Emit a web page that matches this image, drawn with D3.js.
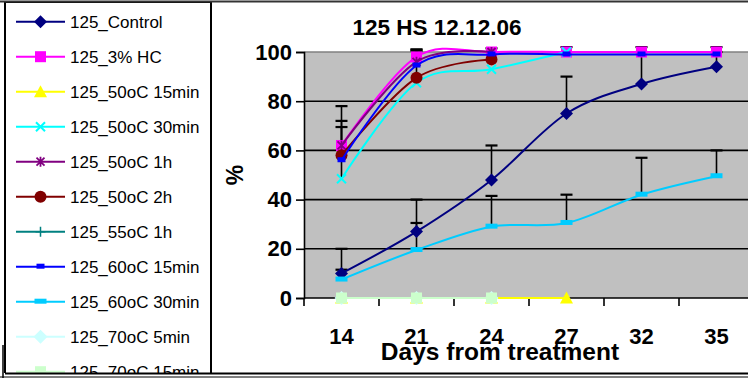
<!DOCTYPE html>
<html><head><meta charset="utf-8">
<script src="https://cdn.jsdelivr.net/npm/d3@7"></script>
<style>
body{margin:0;background:#fff}
svg{display:block}
text{font-family:"Liberation Sans",Arial,Helvetica,sans-serif}
</style>
</head><body>
<svg id="chart" width="748" height="378"></svg>
<script>
// Categories (days after treatment)
const days = ["14", "21", "24", "27", "32", "35"];
const yTicks = [0, 20, 40, 60, 80, 100];

const seriesNames = ["125_Control", "125_3% HC", "125_50oC 15min", "125_50oC 30min", "125_50oC 1h",
  "125_50oC 2h", "125_55oC 1h", "125_60oC 15min", "125_60oC 30min", "125_70oC 5min", "125_70oC 15min"];
const seriesColors = ["#000080", "#FF00FF", "#FFFF00", "#00FFFF", "#800080",
  "#800000", "#008080", "#0000FF", "#00CCFF", "#CCFFFF", "#CCFFCC"];
const seriesMarkers = ["diamond", "square", "triangle", "x", "star",
  "circle", "plus", "dash", "longdash", "diamond", "square"];

// Percent values per series (null = no measurement)
const control  = [10, 27, 48, 75, 87, 94];
const hc3      = [62, 98, 100, 100, 100, 100];
const c50_15m  = [0, 0, 0, 0, null, null];
const c50_30m  = [48.5, 87.5, 93, 100, null, null];
const c50_1h   = [62, 96, 100, null, null, null];
const c50_2h   = [58, 89.5, 97, null, null, null];
const c55_1h   = [null, null, null, null, null, null];
const c60_15m  = [56, 94.5, 99, 99, 99, 99];
const c60_30m  = [7.5, 19.5, 29, 30.5, 42, 49.5];
const c70_5m   = [0, 0, 0, null, null, null];
const c70_15m  = [0, 0, 0, null, null, null];

// Positive error amounts (null = none)
const controlErr = [10, 13, 14, 15, 13, 6];
const hc3Err     = [16, 3, 1.5, 2, 2, 2];
const c50_30mErr = [21, null, null, null, null, null];
const c50_2hErr  = [14, 11.5, null, null, null, null];
const c60_15mErr = [null, 6, null, null, null, null];
const c60_30mErr = [4, 11, 12.5, 11.5, 15, 10.5];

const seriesValues = [control, hc3, c50_15m, c50_30m, c50_1h, c50_2h, c55_1h, c60_15m, c60_30m, c70_5m, c70_15m];
const seriesErrors = [controlErr, hc3Err, null, c50_30mErr, null, c50_2hErr, null, c60_15mErr, c60_30mErr, null, null];

const svg = d3.select("#chart");
svg.append("rect").attr("width", 748).attr("height", 378).attr("fill", "#fff");

const plotLeft = 304, plotTop = 52, plotBottom = 298, band = 75;
const x = d3.scaleBand().domain(days).range([plotLeft, plotLeft + band * days.length]).padding(0);
const cx = d => x(d) + x.bandwidth() / 2;
const y = d3.scaleLinear().domain([0, 100]).range([plotBottom, plotTop]);

// Plot area
svg.append("rect").attr("x", plotLeft).attr("y", plotTop)
  .attr("width", 748 - plotLeft).attr("height", plotBottom - plotTop).attr("fill", "#C0C0C0");

// Gridlines
svg.append("g").selectAll("line").data(yTicks.filter(t => t > 0)).join("line")
  .attr("x1", plotLeft).attr("x2", 748)
  .attr("y1", d => y(d)).attr("y2", d => y(d))
  .attr("stroke", d => d === 100 ? "#808080" : "#000").attr("stroke-width", 1.6);

// Y axis
const yAxis = svg.append("g").attr("transform", `translate(${plotLeft},0)`)
  .call(d3.axisLeft(y).tickValues(yTicks).tickSize(8).tickPadding(4));
yAxis.select(".domain").attr("stroke", "#000").attr("stroke-width", 1.6);
yAxis.selectAll(".tick line").attr("stroke", "#000").attr("stroke-width", 1.6);
yAxis.selectAll(".tick text").attr("font-size", 22).attr("font-weight", "bold")
  .attr("font-family", "'Liberation Sans', Arial, sans-serif").attr("fill", "#000");

// X axis: labels centered in categories, ticks at category edges
const xAxis = svg.append("g").attr("transform", `translate(0,${plotBottom})`)
  .call(d3.axisBottom(x).tickSize(0).tickPadding(30));
xAxis.select(".domain").remove();
xAxis.selectAll(".tick text").attr("font-size", 22).attr("font-weight", "bold")
  .attr("font-family", "'Liberation Sans', Arial, sans-serif").attr("fill", "#000");
svg.append("line").attr("x1", plotLeft).attr("x2", 748).attr("y1", plotBottom).attr("y2", plotBottom)
  .attr("stroke", "#000").attr("stroke-width", 1.6);
svg.append("g").selectAll("line").data(days).join("line")
  .attr("x1", d => x(d)).attr("x2", d => x(d))
  .attr("y1", plotBottom).attr("y2", plotBottom + 8)
  .attr("stroke", "#000").attr("stroke-width", 1.6);

// Titles
svg.append("text").attr("x", 437).attr("y", 35).attr("text-anchor", "middle")
  .attr("font-size", 22.5).attr("font-weight", "bold").text("125 HS 12.12.06");
svg.append("text").attr("x", 500).attr("y", 360).attr("text-anchor", "middle")
  .attr("font-size", 24.5).attr("font-weight", "bold").text("Days from treatment");
svg.append("text").attr("transform", "translate(243,175) rotate(-90)").attr("text-anchor", "middle")
  .attr("font-size", 23).attr("font-weight", "bold").text("%");

function marker(g, type, color, px, py, big) {
  const s = big ? 7 : 6.5;
  switch (type) {
    case "diamond":
      g.append("path").attr("d", `M${px},${py - s}L${px + s},${py}L${px},${py + s}L${px - s},${py}Z`)
        .attr("fill", color); break;
    case "square":
      g.append("rect").attr("x", px - 5.5).attr("y", py - 5.5).attr("width", 11).attr("height", 11).attr("fill", color); break;
    case "triangle":
      g.append("path").attr("d", `M${px},${py - 6.5}L${px + 6.5},${py + 5.5}L${px - 6.5},${py + 5.5}Z`).attr("fill", color); break;
    case "x":
      g.append("path").attr("d", `M${px - 4.5},${py - 4.5}L${px + 4.5},${py + 4.5}M${px - 4.5},${py + 4.5}L${px + 4.5},${py - 4.5}`)
        .attr("stroke", color).attr("stroke-width", 2).attr("fill", "none"); break;
    case "star":
      g.append("path").attr("d", `M${px - 4},${py - 4}L${px + 4},${py + 4}M${px - 4},${py + 4}L${px + 4},${py - 4}M${px},${py - 5}L${px},${py + 5}`)
        .attr("stroke", color).attr("stroke-width", 1.8).attr("fill", "none"); break;
    case "circle":
      g.append("circle").attr("cx", px).attr("cy", py).attr("r", 6).attr("fill", color); break;
    case "plus":
      g.append("path").attr("d", `M${px - 5},${py}L${px + 5},${py}M${px},${py - 5}L${px},${py + 5}`)
        .attr("stroke", color).attr("stroke-width", 1.5).attr("fill", "none"); break;
    case "dash":
      g.append("rect").attr("x", px - 4).attr("y", py - 3).attr("width", 8).attr("height", 5).attr("fill", color); break;
    case "longdash":
      g.append("rect").attr("x", px - 6).attr("y", py - 3).attr("width", 12).attr("height", 5).attr("fill", color); break;
  }
}

// Error bars (plus direction only), under the series
const errG = svg.append("g");
seriesErrors.forEach((errs, si) => {
  if (!errs) return;
  errs.forEach((e, i) => {
    const v = seriesValues[si][i];
    if (e == null || v == null) return;
    const px = cx(days[i]);
    errG.append("line").attr("x1", px).attr("x2", px).attr("y1", y(v)).attr("y2", y(v + e))
      .attr("stroke", "#000").attr("stroke-width", 1.6);
    errG.append("line").attr("x1", px - 6).attr("x2", px + 6).attr("y1", y(v + e)).attr("y2", y(v + e))
      .attr("stroke", "#000").attr("stroke-width", 2.2);
  });
});

// Series lines and markers
const line = d3.line()
  .defined(d => d.v != null)
  .x(d => cx(d.day)).y(d => y(d.v))
  .curve(d3.curveCardinal.tension(0));

seriesValues.forEach((vals, si) => {
  const pts = vals.map((v, i) => ({ day: days[i], v }));
  const g = svg.append("g");
  g.append("path").datum(pts).attr("d", line).attr("fill", "none")
    .attr("stroke", seriesColors[si]).attr("stroke-width", 2);
  pts.filter(p => p.v != null).forEach(p => marker(g, seriesMarkers[si], seriesColors[si], cx(p.day), y(p.v), si >= 9));
});

// Legend
svg.append("defs").append("clipPath").attr("id", "legClip")
  .append("rect").attr("x", 0).attr("y", 0).attr("width", 220).attr("height", 373);
const leg = svg.append("g").attr("clip-path", "url(#legClip)");
leg.append("rect").attr("x", 5).attr("y", 2).attr("width", 206).attr("height", 380)
  .attr("fill", "#fff").attr("stroke", "#000").attr("stroke-width", 2);
seriesNames.forEach((name, i) => {
  const ly = 21.7 + 35 * i;
  leg.append("line").attr("x1", 16).attr("x2", 65).attr("y1", ly).attr("y2", ly)
    .attr("stroke", seriesColors[i]).attr("stroke-width", 2);
  marker(leg, seriesMarkers[i], seriesColors[i], 40.5, ly, i >= 9);
  leg.append("text").attr("x", 70).attr("y", ly).attr("dy", "0.36em")
    .attr("font-size", 17).attr("fill", "#000").text(name);
});

// Outer frame
svg.append("line").attr("x1", 0).attr("x2", 748).attr("y1", 1.5).attr("y2", 1.5).attr("stroke", "#333").attr("stroke-width", 2);
svg.append("line").attr("x1", 5).attr("x2", 748).attr("y1", 373.5).attr("y2", 373.5).attr("stroke", "#000").attr("stroke-width", 2);
svg.append("line").attr("x1", 0).attr("x2", 748).attr("y1", 377).attr("y2", 377).attr("stroke", "#555").attr("stroke-width", 1.5);
svg.append("line").attr("x1", 3).attr("x2", 3).attr("y1", 345).attr("y2", 378).attr("stroke", "#000").attr("stroke-width", 1.5);
</script>
</body></html>
